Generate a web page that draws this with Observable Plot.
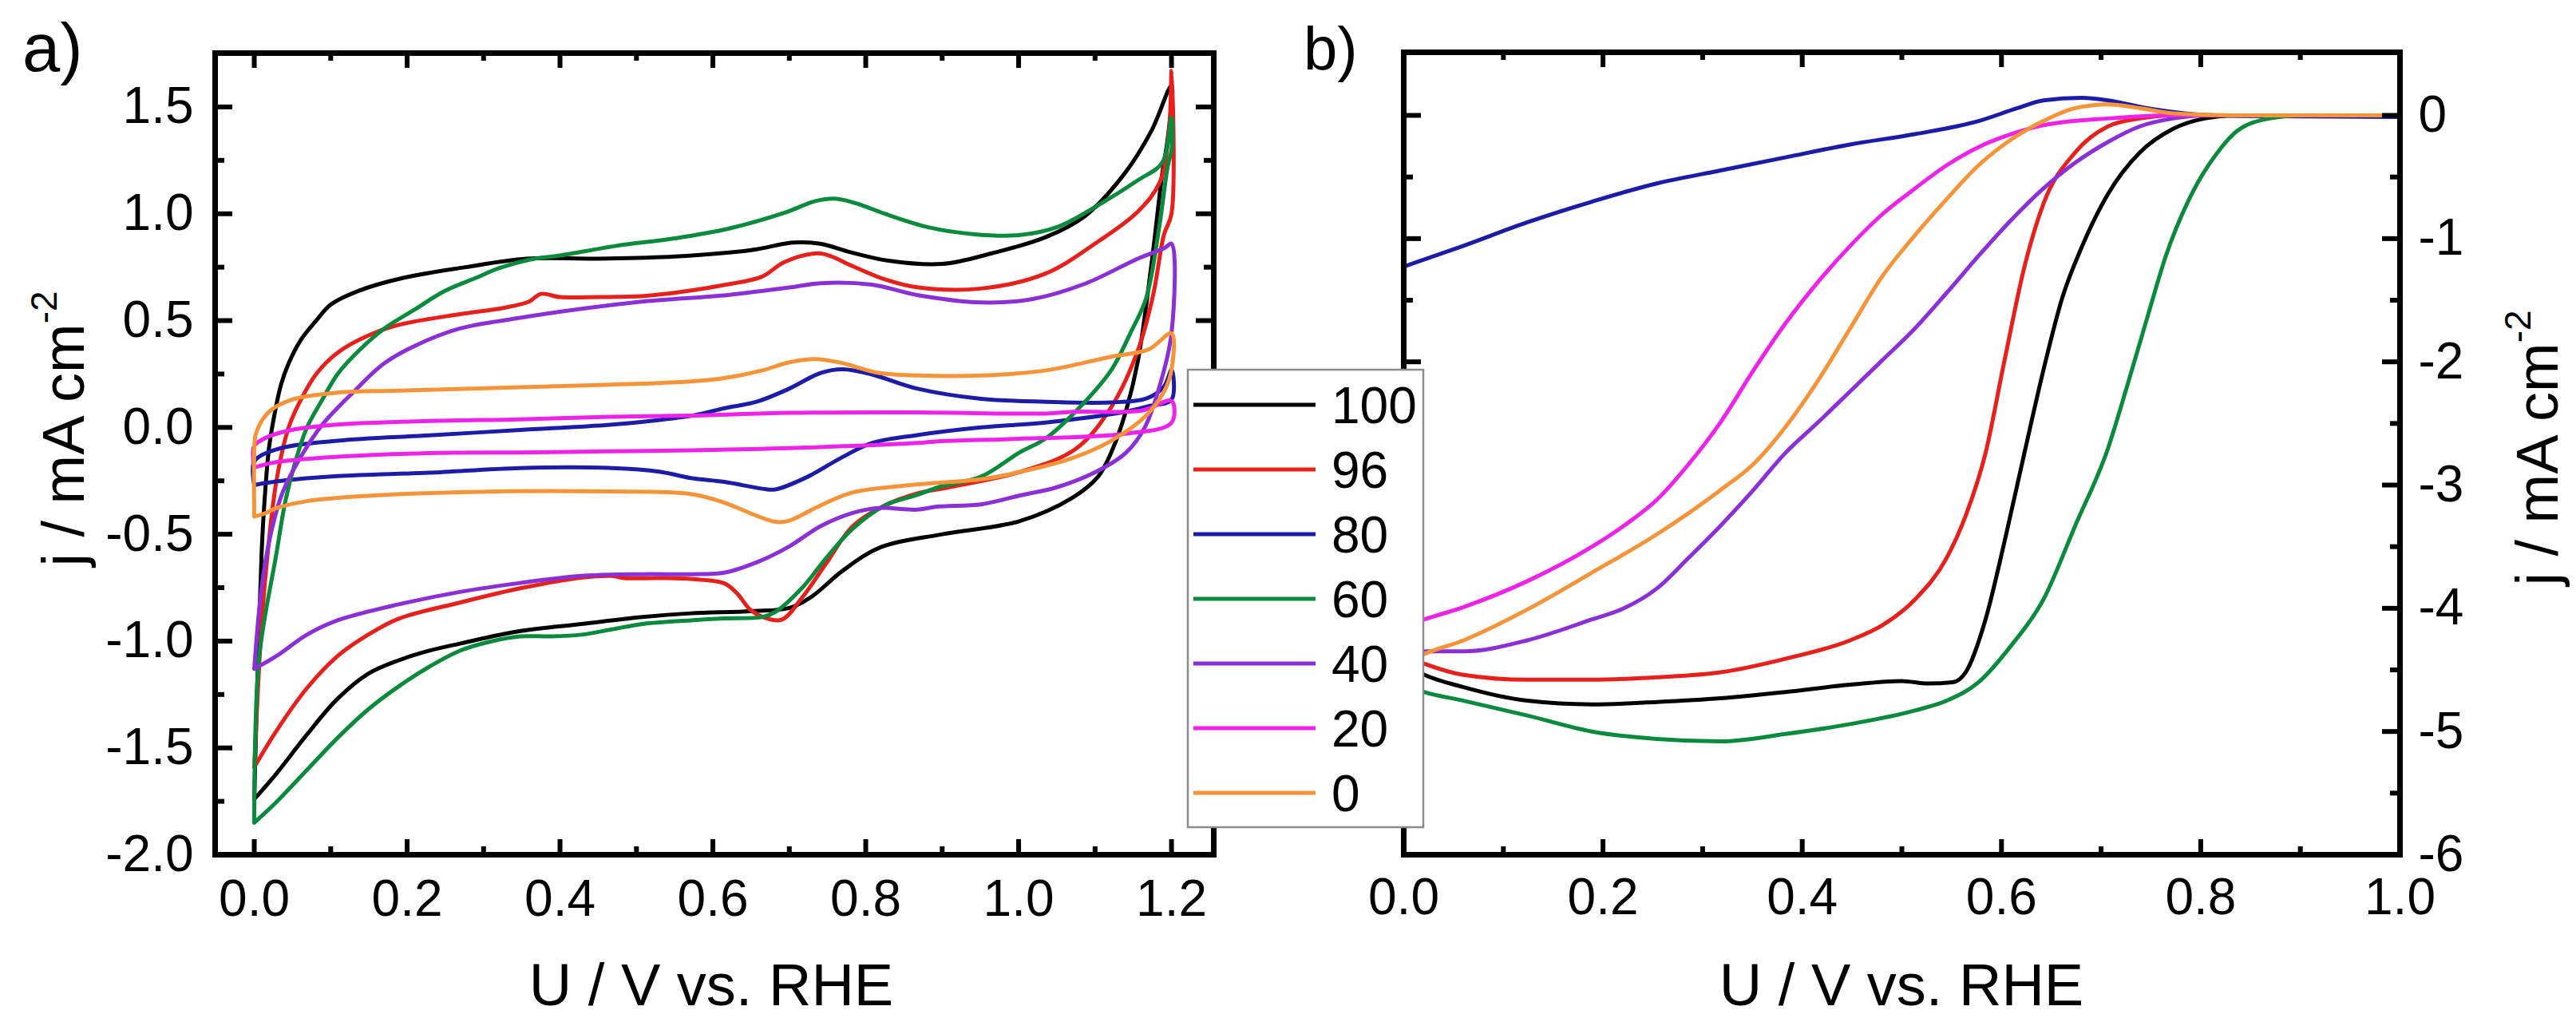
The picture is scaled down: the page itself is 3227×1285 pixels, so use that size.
<!DOCTYPE html>
<html>
<head>
<meta charset="utf-8">
<script src="https://cdn.jsdelivr.net/npm/d3@7"></script>
<script src="https://cdn.jsdelivr.net/npm/@observablehq/plot@0.6"></script>
<style>
html, body { margin: 0; padding: 0; background: #fff; }
#wrap { position: relative; width: 3227px; height: 1285px; overflow: hidden; font-family: Arial, "Liberation Sans", sans-serif; }
#pa { position: absolute; left: 0; top: 0; }
#pb { position: absolute; left: 1600px; top: 0; }
#ov { position: absolute; left: 0; top: 0; }
</style>
</head>
<body>
<div id="wrap">
  <div id="pa"></div>
  <div id="pb"></div>
  <svg id="ov" width="3227" height="1285"></svg>
</div>
<script>
// ---------- categories & colours ----------
const concentrations = ["100", "96", "80", "60", "40", "20", "0"];
const seriesColors = ["#000000", "#e8201c", "#1c1ca8", "#0a8a3c", "#8b2fd6", "#ee22e8", "#f7943a"];

// ---------- panel a) cyclic voltammograms [U (V vs RHE), j (mA cm^-2)] ----------
const cv100 = [[0,-1.74],[0.004,-1.2],[0.0096,-0.59],[0.0135,-0.34],[0.0195,-0.09],[0.0275,0.08],[0.035,0.2],[0.045,0.3],[0.061,0.41],[0.081,0.5],[0.1,0.575],[0.137,0.64],[0.195,0.7],[0.276,0.75],[0.356,0.79],[0.45,0.79],[0.55,0.8],[0.65,0.83],[0.705,0.865],[0.74,0.86],[0.78,0.82],[0.83,0.78],[0.9,0.765],[0.965,0.815],[1.035,0.89],[1.087,0.99],[1.139,1.19],[1.174,1.39],[1.2,1.6],
  [1.195,1.35],[1.188,1.19],[1.174,0.77],[1.156,0.31],[1.139,0.06],[1.122,-0.11],[1.104,-0.23],[1.07,-0.33],[1.0,-0.44],[0.9,-0.5],[0.82,-0.56],[0.77,-0.67],[0.73,-0.79],[0.7,-0.845],[0.65,-0.86],[0.571,-0.87],[0.508,-0.887],[0.428,-0.92],[0.348,-0.953],[0.269,-1.012],[0.229,-1.045],[0.189,-1.09],[0.149,-1.153],[0.109,-1.27],[0.069,-1.437],[0.029,-1.62],[0,-1.74]];
const cv96 = [[0,-1.59],[0.0096,-0.92],[0.0175,-0.59],[0.029,-0.25],[0.045,0.0],[0.061,0.13],[0.081,0.25],[0.109,0.35],[0.149,0.43],[0.189,0.48],[0.269,0.53],[0.327,0.56],[0.36,0.59],[0.375,0.625],[0.4,0.61],[0.45,0.61],[0.51,0.615],[0.57,0.64],[0.62,0.67],[0.664,0.705],[0.694,0.775],[0.741,0.814],[0.783,0.754],[0.825,0.693],[0.867,0.656],[0.951,0.65],[1.035,0.72],[1.104,0.87],[1.156,1.01],[1.185,1.15],[1.197,1.4],[1.2,1.67],
  [1.2,1.0],[1.19,0.9],[1.176,0.62],[1.156,0.36],[1.122,0.1],[1.075,-0.1],[1.0,-0.21],[0.909,-0.28],[0.867,-0.31],[0.825,-0.365],[0.783,-0.462],[0.749,-0.632],[0.716,-0.8],[0.69,-0.9],[0.665,-0.887],[0.648,-0.85],[0.632,-0.778],[0.615,-0.73],[0.573,-0.71],[0.53,-0.705],[0.484,-0.705],[0.468,-0.695],[0.428,-0.703],[0.348,-0.753],[0.269,-0.82],[0.189,-0.895],[0.149,-0.97],[0.109,-1.07],[0.069,-1.22],[0.029,-1.42],[0,-1.59]];
const cv80 = [[0,-0.27],[0,-0.16],[0.029,-0.103],[0.109,-0.062],[0.229,-0.037],[0.348,-0.012],[0.468,0.013],[0.53,0.035],[0.58,0.06],[0.615,0.09],[0.657,0.12],[0.699,0.18],[0.741,0.255],[0.77,0.272],[0.808,0.248],[0.867,0.182],[0.951,0.134],[1.036,0.12],[1.12,0.117],[1.167,0.135],[1.19,0.19],[1.2,0.27],
  [1.2,0.13],[1.17,0.1],[1.139,0.073],[1.035,0.023],[0.951,0.0],[0.867,-0.036],[0.808,-0.073],[0.766,-0.146],[0.724,-0.231],[0.682,-0.29],[0.665,-0.287],[0.615,-0.255],[0.571,-0.237],[0.53,-0.207],[0.468,-0.19],[0.348,-0.19],[0.229,-0.212],[0.109,-0.228],[0.029,-0.253],[0,-0.27]];
const cv60 = [[0,-1.85],[0.006,-1.09],[0.029,-0.59],[0.041,-0.34],[0.053,-0.17],[0.069,0.0],[0.089,0.13],[0.109,0.25],[0.137,0.36],[0.169,0.46],[0.209,0.55],[0.25,0.64],[0.29,0.7],[0.32,0.745],[0.36,0.785],[0.4,0.805],[0.474,0.85],[0.55,0.885],[0.62,0.93],[0.694,1.005],[0.735,1.06],[0.762,1.07],[0.795,1.04],[0.825,1.0],[0.883,0.936],[0.94,0.905],[1.0,0.9],[1.052,0.94],[1.104,1.04],[1.156,1.157],[1.188,1.24],[1.2,1.45],
  [1.2,1.3],[1.195,1.22],[1.184,0.94],[1.167,0.607],[1.146,0.44],[1.122,0.273],[1.083,0.106],[1.036,-0.05],[1.0,-0.12],[0.951,-0.23],[0.895,-0.28],[0.867,-0.316],[0.825,-0.365],[0.783,-0.474],[0.749,-0.608],[0.716,-0.754],[0.682,-0.863],[0.665,-0.887],[0.615,-0.894],[0.571,-0.903],[0.508,-0.92],[0.468,-0.945],[0.428,-0.97],[0.388,-0.978],[0.348,-0.978],[0.308,-1.003],[0.269,-1.045],[0.229,-1.12],[0.189,-1.212],[0.149,-1.32],[0.109,-1.453],[0.069,-1.603],[0.029,-1.753],[0,-1.85]];
const cv40 = [[0,-1.13],[0.0096,-0.75],[0.0215,-0.5],[0.0375,-0.3],[0.061,-0.137],[0.089,0.013],[0.129,0.163],[0.169,0.297],[0.209,0.38],[0.269,0.463],[0.348,0.513],[0.428,0.555],[0.51,0.59],[0.62,0.62],[0.7,0.655],[0.741,0.675],[0.808,0.668],[0.867,0.62],[0.951,0.585],[1.017,0.6],[1.087,0.673],[1.156,0.79],[1.191,0.84],[1.2,0.86],
  [1.2,0.44],[1.185,0.2],[1.165,0.0],[1.14,-0.12],[1.1,-0.21],[1.05,-0.28],[1.0,-0.32],[0.951,-0.36],[0.895,-0.37],[0.867,-0.385],[0.817,-0.377],[0.783,-0.4],[0.741,-0.462],[0.699,-0.559],[0.657,-0.632],[0.615,-0.68],[0.571,-0.687],[0.508,-0.687],[0.428,-0.695],[0.348,-0.728],[0.269,-0.77],[0.189,-0.828],[0.109,-0.903],[0.069,-0.97],[0.029,-1.07],[0,-1.13]];
const cv20 = [[0,-0.187],[0,-0.087],[0.0175,-0.045],[0.049,-0.012],[0.109,0.013],[0.229,0.03],[0.348,0.038],[0.468,0.05],[0.571,0.055],[0.7,0.068],[0.867,0.07],[1.036,0.065],[1.07,0.073],[1.162,0.08],[1.2,0.124],
  [1.2,0.022],[1.139,-0.03],[1.0,-0.053],[0.895,-0.065],[0.867,-0.073],[0.699,-0.097],[0.571,-0.107],[0.468,-0.112],[0.348,-0.117],[0.229,-0.12],[0.109,-0.137],[0.029,-0.162],[0,-0.187]];
const cv0 = [[0,-0.417],[0,-0.12],[0.0016,-0.037],[0.0096,0.03],[0.0215,0.08],[0.049,0.13],[0.109,0.163],[0.189,0.172],[0.348,0.188],[0.508,0.205],[0.571,0.215],[0.615,0.231],[0.665,0.267],[0.699,0.304],[0.733,0.32],[0.766,0.304],[0.817,0.255],[0.867,0.243],[0.951,0.243],[1.036,0.267],[1.12,0.33],[1.17,0.365],[1.2,0.44],
  [1.2,0.27],[1.191,0.173],[1.167,0.056],[1.122,-0.061],[1.07,-0.144],[1.0,-0.21],[0.951,-0.243],[0.867,-0.267],[0.783,-0.304],[0.741,-0.365],[0.699,-0.4375],[0.682,-0.442],[0.657,-0.413],[0.615,-0.352],[0.571,-0.312],[0.468,-0.3],[0.269,-0.303],[0.149,-0.32],[0.069,-0.345],[0.029,-0.378],[0.0135,-0.403],[0,-0.417]];

// ---------- panel b) linear sweeps [U (V vs RHE), j (mA cm^-2)] ----------
const lsv100 = [[0,-4.45],[0.021,-4.54],[0.06,-4.64],[0.124,-4.75],[0.189,-4.78],[0.254,-4.76],[0.318,-4.73],[0.383,-4.68],[0.448,-4.62],[0.5,-4.59],[0.526,-4.61],[0.551,-4.6],[0.564,-4.52],[0.584,-4.09],[0.603,-3.46],[0.623,-2.74],[0.642,-2.07],[0.661,-1.48],[0.681,-1.06],[0.707,-0.637],[0.739,-0.3],[0.772,-0.11],[0.804,-0.025],[0.836,0],[0.9,0],[1.0,-0.01]];
const lsv96 = [[0,-4.38],[0.021,-4.45],[0.06,-4.54],[0.124,-4.58],[0.189,-4.58],[0.254,-4.56],[0.318,-4.52],[0.383,-4.41],[0.448,-4.26],[0.48,-4.14],[0.513,-3.93],[0.545,-3.59],[0.564,-3.25],[0.584,-2.74],[0.603,-1.99],[0.623,-1.23],[0.642,-0.72],[0.674,-0.3],[0.707,-0.089],[0.739,-0.025],[0.772,0],[0.9,0],[1.0,0]];
const lsv80 = [[0,-1.227],[0.06,-1.058],[0.124,-0.868],[0.189,-0.7],[0.254,-0.552],[0.318,-0.447],[0.383,-0.341],[0.448,-0.236],[0.513,-0.152],[0.577,-0.046],[0.616,0.059],[0.642,0.122],[0.681,0.143],[0.707,0.122],[0.746,0.059],[0.784,0.017],[0.836,-0.004],[1.0,-0.013]];
const lsv60 = [[0,-4.62],[0.021,-4.68],[0.06,-4.75],[0.124,-4.87],[0.189,-5.0],[0.254,-5.06],[0.318,-5.08],[0.383,-5.02],[0.448,-4.94],[0.513,-4.83],[0.545,-4.75],[0.577,-4.6],[0.61,-4.3],[0.642,-3.93],[0.674,-3.33],[0.707,-2.7],[0.726,-2.2],[0.746,-1.65],[0.765,-1.14],[0.791,-0.637],[0.817,-0.3],[0.836,-0.13],[0.869,-0.025],[0.901,0],[1.0,0]];
const lsv40 = [[0,-4.35],[0.021,-4.35],[0.06,-4.35],[0.124,-4.26],[0.189,-4.09],[0.221,-4.0],[0.254,-3.84],[0.286,-3.59],[0.318,-3.33],[0.351,-3.04],[0.383,-2.74],[0.416,-2.49],[0.448,-2.24],[0.48,-1.99],[0.513,-1.73],[0.545,-1.44],[0.577,-1.14],[0.61,-0.847],[0.642,-0.594],[0.674,-0.384],[0.707,-0.215],[0.739,-0.089],[0.772,-0.025],[0.804,0],[1.0,0]];
const lsv20 = [[0,-4.15],[0.021,-4.09],[0.06,-3.99],[0.124,-3.78],[0.189,-3.5],[0.221,-3.33],[0.254,-3.12],[0.286,-2.83],[0.318,-2.49],[0.351,-2.07],[0.383,-1.69],[0.416,-1.35],[0.448,-1.06],[0.48,-0.805],[0.513,-0.594],[0.545,-0.405],[0.577,-0.257],[0.61,-0.152],[0.642,-0.08],[0.707,-0.025],[0.772,0],[1.0,0]];
const lsv0 = [[0,-4.45],[0.021,-4.37],[0.06,-4.26],[0.124,-4.01],[0.189,-3.71],[0.254,-3.4],[0.318,-3.04],[0.351,-2.83],[0.383,-2.53],[0.416,-2.15],[0.448,-1.73],[0.48,-1.31],[0.513,-0.974],[0.545,-0.679],[0.577,-0.405],[0.61,-0.194],[0.642,-0.046],[0.674,0.059],[0.707,0.089],[0.739,0.059],[0.772,0.017],[0.836,0],[1.0,0]];

// ---------- tick values ----------
const xTicksA = [0, 0.2, 0.4, 0.6, 0.8, 1.0, 1.2];
const xMinorA = [0.1, 0.3, 0.5, 0.7, 0.9, 1.1];
const yTicksA = [-2.0, -1.5, -1.0, -0.5, 0.0, 0.5, 1.0, 1.5];
const yMinorA = [-1.75, -1.25, -0.75, -0.25, 0.25, 0.75, 1.25];
const xTicksB = [0, 0.2, 0.4, 0.6, 0.8, 1.0];
const xMinorB = [0.1, 0.3, 0.5, 0.7, 0.9];
const yTicksB = [0, -1, -2, -3, -4, -5, -6];
const yMinorB = [-0.5, -1.5, -2.5, -3.5, -4.5, -5.5];

const cvSeries = [cv100, cv96, cv80, cv60, cv40, cv20, cv0];
const lsvSeries = [lsv100, lsv96, lsv80, lsv60, lsv40, lsv20, lsv0];

const FONT = 'Arial, "Liberation Sans", sans-serif';

function panel(o) {
  const W = o.width - o.mL - o.mR;
  const H = o.height - o.mT - o.mB;
  const tk = {stroke: "#000", strokeWidth: 6};
  const marks = [];
  o.series.forEach((s, i) => {
    marks.push(Plot.line(s, {x: d => d[0], y: d => d[1], stroke: seriesColors[i], strokeWidth: 5, curve: o.curve}));
  });
  // inward ticks on all four sides
  marks.push(Plot.tickX(o.xMaj, {x: d => d, insetTop: H - 19, ...tk}));
  marks.push(Plot.tickX(o.xMaj, {x: d => d, insetBottom: H - 19, ...tk}));
  marks.push(Plot.tickX(o.xMin, {x: d => d, insetTop: H - 10, ...tk}));
  marks.push(Plot.tickX(o.xMin, {x: d => d, insetBottom: H - 10, ...tk}));
  marks.push(Plot.tickY(o.yMaj, {y: d => d, insetRight: W - 22, ...tk}));
  marks.push(Plot.tickY(o.yMaj, {y: d => d, insetLeft: W - 22, ...tk}));
  marks.push(Plot.tickY(o.yMin, {y: d => d, insetRight: W - 12, ...tk}));
  marks.push(Plot.tickY(o.yMin, {y: d => d, insetLeft: W - 12, ...tk}));
  marks.push(Plot.frame({stroke: "#000", strokeWidth: 7}));
  marks.push(Plot.axisX({ticks: o.xMaj, anchor: "bottom", tickSize: 0, tickPadding: o.xPad, tickFormat: o.xFmt, fontSize: 64, label: null}));
  marks.push(Plot.axisY({ticks: o.yMaj, anchor: o.yAnchor, tickSize: 0, tickPadding: o.yPad, tickFormat: o.yFmt, fontSize: 64, label: null}));
  return Plot.plot({
    width: o.width, height: o.height,
    marginLeft: o.mL, marginRight: o.mR, marginTop: o.mT, marginBottom: o.mB,
    x: {domain: o.xDom, axis: null},
    y: {domain: o.yDom, axis: null},
    style: {fontFamily: FONT, fontSize: "64px", color: "#000", background: "transparent", overflow: "visible"},
    marks
  });
}

document.getElementById("pa").append(panel({
  series: cvSeries, curve: "catmull-rom",
  width: 1600, height: 1285, mL: 269, mR: 80, mT: 66, mB: 215,
  xDom: [-0.0512, 1.2553], yDom: [-2.0, 1.752],
  xMaj: xTicksA, xMin: xMinorA, yMaj: yTicksA, yMin: yMinorA,
  xFmt: d => d.toFixed(1), yFmt: d => d.toFixed(1),
  yAnchor: "left", xPad: 31, yPad: 27
}));

document.getElementById("pb").append(panel({
  series: lsvSeries, curve: "monotone-x",
  width: 1627, height: 1285, mL: 158, mR: 221, mT: 65, mB: 215,
  xDom: [0, 1.0], yDom: [-6, 0.512],
  xMaj: xTicksB, xMin: xMinorB, yMaj: yTicksB, yMin: yMinorB,
  xFmt: d => d.toFixed(1), yFmt: d => String(d),
  yAnchor: "right", xPad: 29, yPad: 23
}));

// ---------- overlay: panel letters, axis titles, legend ----------
const ov = d3.select("#ov").style("font-family", FONT);
ov.append("text").attr("x", 28).attr("y", 89).attr("font-size", 85).text("a)");
ov.append("text").attr("x", 1633).attr("y", 87).attr("font-size", 76).text("b)");

[891, 2382].forEach(cx => {
  ov.append("text").attr("x", cx).attr("y", 1259).attr("font-size", 74)
    .attr("text-anchor", "middle").text("U / V vs. RHE");
});

function yTitle(x, y) {
  const t = ov.append("text").attr("transform", `translate(${x},${y}) rotate(-90)`)
    .attr("font-size", 74).attr("text-anchor", "middle");
  t.append("tspan").text("j / mA cm");
  t.append("tspan").attr("font-size", 46).attr("dy", -34).text("-2");
}
yTitle(105, 537);
yTitle(3204, 561);

const lg = ov.append("g");
lg.append("rect").attr("x", 1488).attr("y", 463).attr("width", 295).attr("height", 573)
  .attr("fill", "#fff").attr("stroke", "#8c8c8c").attr("stroke-width", 2.5);
concentrations.forEach((c, i) => {
  const cy = 507 + 81 * i;
  lg.append("line").attr("x1", 1495).attr("x2", 1648).attr("y1", cy).attr("y2", cy)
    .attr("stroke", seriesColors[i]).attr("stroke-width", 5);
  lg.append("text").attr("x", 1668).attr("y", cy + 23).attr("font-size", 64).text(c);
});
</script>
</body>
</html>
